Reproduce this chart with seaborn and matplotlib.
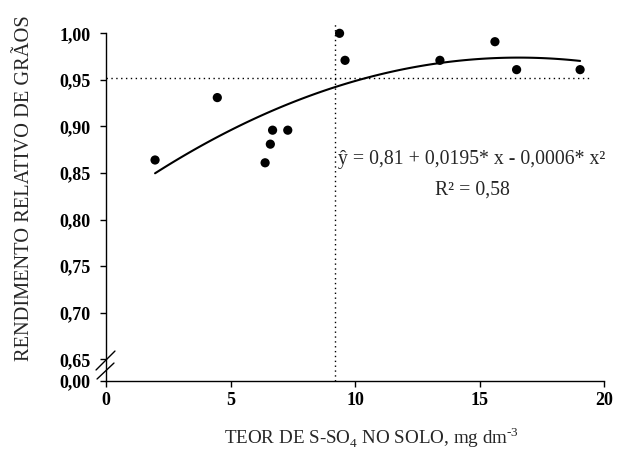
import matplotlib
matplotlib.use("Agg")
import matplotlib.pyplot as plt
import seaborn as sns
import numpy as np
import pandas as pd

# -- dados
teor_s = [1.97, 4.47, 6.39, 6.60, 6.69, 7.30, 9.38, 9.60, 13.41, 15.62, 16.49, 19.04]
rend_rel = [0.864, 0.931, 0.861, 0.881, 0.896, 0.896, 1.000, 0.971, 0.971, 0.991, 0.961, 0.961]
x_ticks = [0, 5, 10, 15, 20]
y_ticks = [0.65, 0.70, 0.75, 0.80, 0.85, 0.90, 0.95, 1.00]
y_labels = ["0,65", "0,70", "0,75", "0,80", "0,85", "0,90", "0,95", "1,00"]
x_critico = 9.2
y_critico = 0.952

df = pd.DataFrame({"teor": teor_s, "rend": rend_rel})

sns.set_style("ticks")
plt.rcParams["font.family"] = ["Liberation Serif", "DejaVu Serif"]
plt.rcParams["mathtext.fontset"] = "custom"
plt.rcParams["mathtext.rm"] = "Liberation Serif"

fig = plt.figure(figsize=(6.25, 4.49), dpi=100)
ax = fig.add_axes([0.1696, 0.152, 0.7968, 0.7738])

y_base = 0.627  # posicao do "0,00" depois da quebra do eixo

# -- pontos + ajuste quadratico
sns.regplot(data=df, x="teor", y="rend", order=2, ci=None, ax=ax,
            scatter_kws=dict(s=44, color="black", edgecolor="none", alpha=1,
                             zorder=3, clip_on=False),
            line_kws=dict(color="black", lw=1.5))

# -- linhas do nivel critico
ax.plot([x_critico, x_critico], [y_base, 1.011], color="black", lw=1,
        linestyle=(0, (1, 2.5)), clip_on=False)
ax.plot([0, 19.5], [y_critico, y_critico], color="black", lw=1,
        linestyle=(0, (1, 2.5)))

ax.set_xlim(0, 20)
ax.set_ylim(y_base, 1.0)
ax.set_xticks(x_ticks)
ax.set_xticklabels([str(t) for t in x_ticks])
ax.set_yticks([y_base] + y_ticks)
ax.set_yticklabels(["0,00"] + y_labels)
for lab in ax.get_xticklabels() + ax.get_yticklabels():
    lab.set_fontweight("bold")
    lab.set_fontsize(13)
ax.tick_params(direction="out", length=4, width=1, colors="black")
ax.tick_params(axis="y", pad=7)
ax.tick_params(axis="x", pad=4)

sns.despine(ax=ax)
for s in ["left", "bottom"]:
    ax.spines[s].set_linewidth(1)
    ax.spines[s].set_color("black")

# -- quebra do eixo y
ax.plot([-0.020, 0.018], [0.031, 0.0855], color="black", lw=1,
        transform=ax.transAxes, clip_on=False)
ax.plot([-0.018, 0.016], [0.005, 0.051], color="black", lw=1,
        transform=ax.transAxes, clip_on=False)

ax.set_xlabel(r"TEOR DE S-SO$_4$ NO SOLO, mg dm$^{\text{-}3}$", fontsize=13.7)
ax.xaxis.set_label_coords(0.534, -0.127)
ax.set_ylabel("RENDIMENTO RELATIVO DE GRÃOS", fontsize=14.7)
ax.yaxis.set_label_coords(-0.145, 0.555)

ax.text(14.7, 0.864, "ŷ = 0,81 + 0,0195* x - 0,0006* x²", fontsize=14.2,
        ha="center", va="center")
ax.text(14.7, 0.832, "R² = 0,58", fontsize=14.2, ha="center", va="center")

fig.savefig("out.png", dpi=100)
